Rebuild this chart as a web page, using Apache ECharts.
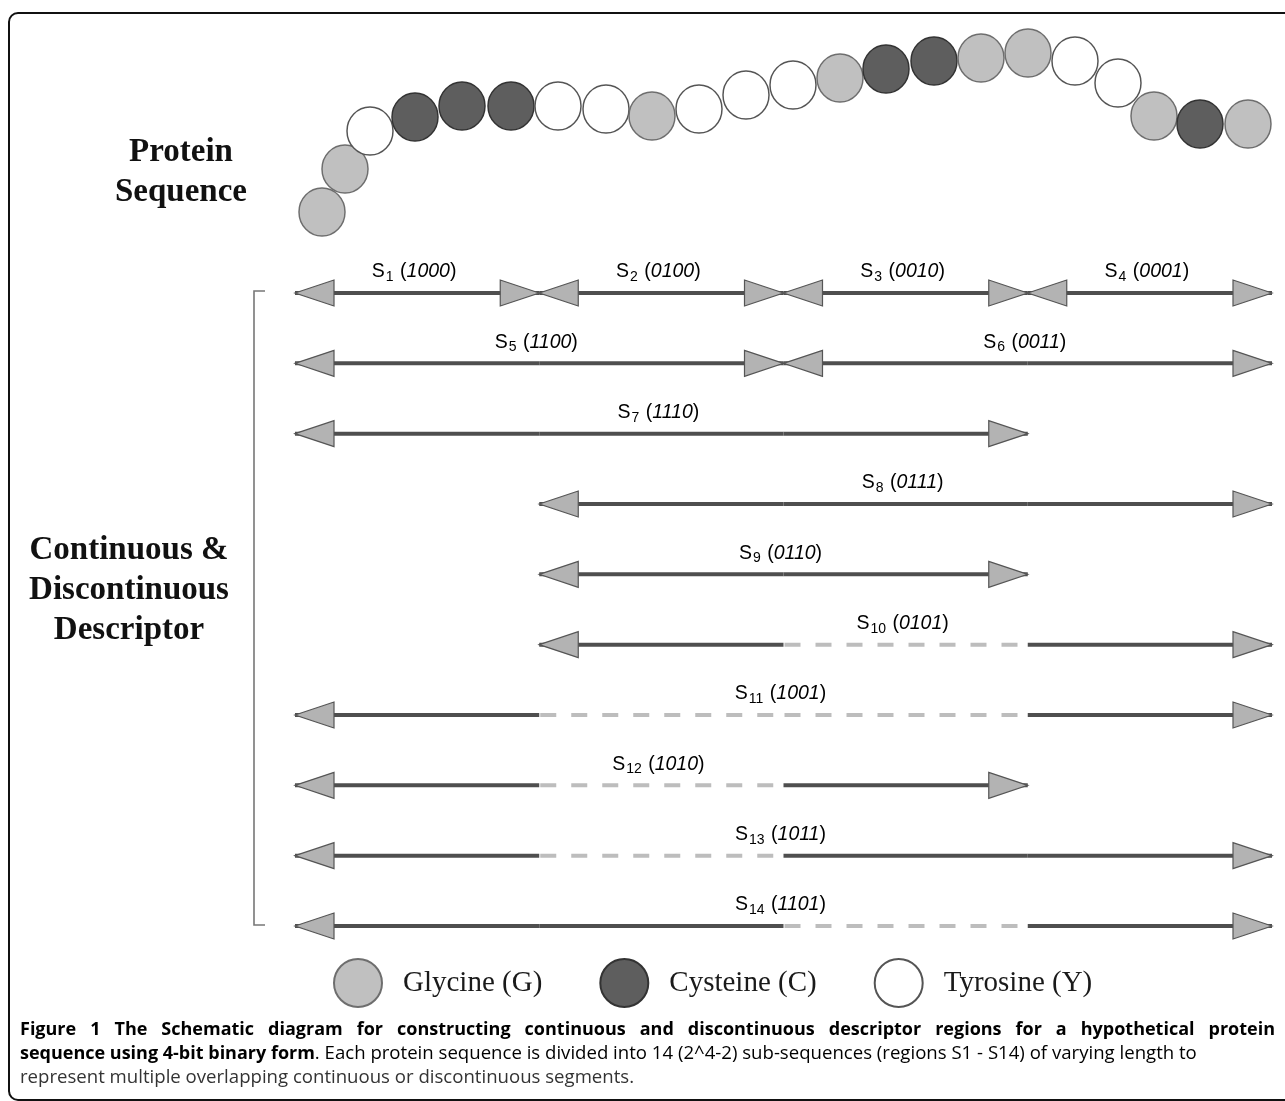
<!DOCTYPE html>
<html><head><meta charset="utf-8">
<script src="https://cdn.jsdelivr.net/npm/echarts@6/dist/echarts.min.js"></script>
<style>html,body{margin:0;padding:0;background:#fff}#c{width:1285px;height:1101px}</style>
</head><body><div id="c"></div>
<script>
// ---- data ----
const residueTypes = ['Glycine (G)', 'Cysteine (C)', 'Tyrosine (Y)'];
const residueCodes = ['G', 'C', 'Y'];
const chainSequence = ['G','G','Y','C','C','C','Y','Y','G','Y','Y','Y','G','C','C','G','G','Y','Y','G','C','G'];
const chainX = [322,345,370,415,462,511,558,606,652,699,746,793,840,886,934,981,1028,1075,1118,1154,1200,1248];
const chainY = [212,169,131,117,106,106,106,109,116,109,95,85,78,69,61,58,53,61,83,116,124,124];
const regionNames = ['1','2','3','4','5','6','7','8','9','10','11','12','13','14'];
const regionCodes = ['1000','0100','0010','0001','1100','0011','1110','0111','0110','0101','1001','1010','1011','1101'];
const regionRows = [0,0,0,0,1,1,2,3,4,5,6,7,8,9];
const quarterTicks = [0,1,2,3,4];
const captionLine1 = 'Figure 1 The Schematic diagram for constructing continuous and discontinuous descriptor regions for a hypothetical protein';
const captionLine2Bold = 'sequence using 4-bit binary form';
const captionLine2 = '. Each protein sequence is divided into 14 (2^4-2) sub-sequences (regions S1 - S14) of varying length to';
const captionLine3 = 'represent multiple overlapping continuous or discontinuous segments.';

const residueStyle = {
  G: { color: '#c0c0c0', borderColor: '#6e6e6e', borderWidth: 1.5, opacity: 1 },
  C: { color: '#5e5e5e', borderColor: '#333333', borderWidth: 1.5, opacity: 1 },
  Y: { color: '#ffffff', borderColor: '#555555', borderWidth: 1.5, opacity: 1 }
};

const chart = echarts.init(document.getElementById('c'), null, { renderer: 'canvas' });

const regionData = regionCodes.map((code, i) => {
  const bits = code.split('').map(Number);
  return [bits.indexOf(1), bits.lastIndexOf(1) + 1, regionRows[i], i];
});

function renderRegion(params, api) {
  const i = api.value(3);
  const code = regionCodes[i];
  const bits = code.split('').map(Number);
  const first = bits.indexOf(1), last = bits.lastIndexOf(1);
  const row = api.value(2);
  const children = [];
  for (let q = first; q <= last; q++) {
    const p0 = api.coord([q, row]);
    const p1 = api.coord([q + 1, row]);
    const solid = bits[q] === 1;
    children.push({
      type: 'line',
      shape: { x1: p0[0] + (solid ? 0 : 1), y1: p0[1], x2: p1[0] - (solid ? 0 : 3), y2: p1[1] },
      style: solid ? { stroke: '#4f4f4f', lineWidth: 4 } : { stroke: '#bdbdbd', lineWidth: 4, lineDash: [16, 15] }
    });
  }
  const L = api.coord([first, row]);
  const R = api.coord([last + 1, row]);
  const hl = 39, hh = 13;
  const headStyle = { fill: '#b3b3b3', stroke: '#555', lineWidth: 1.2 };
  children.push({ type: 'polygon', shape: { points: [[L[0], L[1]], [L[0] + hl, L[1] - hh], [L[0] + hl, L[1] + hh]] }, style: headStyle });
  children.push({ type: 'polygon', shape: { points: [[R[0], R[1]], [R[0] - hl, R[1] - hh], [R[0] - hl, R[1] + hh]] }, style: headStyle });
  children.push({
    type: 'text',
    x: (L[0] + R[0]) / 2 - 3, y: L[1] - 21,
    style: {
      text: '{s|S}{sub|' + regionNames[i] + '}{s| (}{it|' + code + '}{s|)}',
      align: 'center', verticalAlign: 'middle',
      rich: {
        s: { fontFamily: 'Liberation Sans', fontSize: 19.5, color: '#1a1a1a', lineHeight: 24, verticalAlign: 'middle' },
        sub: { fontFamily: 'Liberation Sans', fontSize: 14, color: '#1a1a1a', lineHeight: 14, verticalAlign: 'bottom', padding: [0, 1, 0, 1] },
        it: { fontFamily: 'Liberation Sans', fontSize: 19.5, fontStyle: 'italic', color: '#1a1a1a', lineHeight: 24, verticalAlign: 'middle' }
      }
    }
  });
  return { type: 'group', children };
}

const serifBold = { fontFamily: 'Liberation Serif', fontWeight: 'bold', fontSize: 33, fill: '#111', align: 'center', verticalAlign: 'middle', lineHeight: 40 };

const line1Rich = captionLine1.split(' ').map(w => '{b|' + w + '}').join('{sp| }');

const option = {
  backgroundColor: '#fff',
  animation: false,
  grid: [
    { left: 295, top: 293, width: 977, height: 633 },
    { left: 0, top: 0, width: 1285, height: 1101 }
  ],
  xAxis: [
    { type: 'value', gridIndex: 0, min: 0, max: 4, interval: 1, show: false },
    { type: 'value', gridIndex: 1, min: 0, max: 1285, show: false }
  ],
  yAxis: [
    { type: 'value', gridIndex: 0, min: 0, max: 9, interval: 1, inverse: true, show: false },
    { type: 'value', gridIndex: 1, min: 0, max: 1101, inverse: true, show: false }
  ],
  legend: {
    data: residueTypes.map(n => ({ name: n, icon: 'circle' })),
    left: 333, top: 958, padding: 0, itemWidth: 48, itemHeight: 48, itemGap: 57,
    textStyle: { fontFamily: 'Liberation Serif', fontSize: 29, color: '#1a1a1a', padding: [0, 0, 0, 16] },
    selectedMode: false
  },
  series: [
    {
      type: 'custom', name: 'regions', xAxisIndex: 0, yAxisIndex: 0,
      renderItem: renderRegion, data: regionData, clip: false, silent: true,
      encode: { x: [0, 1], y: 2 }
    },
    {
      type: 'scatter', name: 'chain', xAxisIndex: 1, yAxisIndex: 1, symbol: 'circle',
      symbolSize: [46, 48], silent: true,
      data: chainSequence.map((c, i) => ({ value: [chainX[i], chainY[i]], itemStyle: residueStyle[c] }))
    }
  ].concat(residueTypes.map((n, k) => ({
    type: 'scatter', name: n, xAxisIndex: 1, yAxisIndex: 1, data: [],
    itemStyle: residueStyle[residueCodes[k]]
  }))),
  graphic: [
    { type: 'rect', shape: { x: 9, y: 13, width: 1300, height: 1087, r: 9 }, style: { fill: 'none', stroke: '#111', lineWidth: 2 }, z: 0 },
    { type: 'polyline', shape: { points: [[265, 291], [254, 291], [254, 925], [265, 925]] }, style: { fill: 'none', stroke: '#777', lineWidth: 1.6 } },
    { type: 'text', x: 181, y: 172, style: Object.assign({ text: 'Protein\nSequence' }, serifBold) },
    { type: 'text', x: 129, y: 590, style: Object.assign({ text: 'Continuous &\nDiscontinuous\nDescriptor' }, serifBold) },
    { type: 'text', x: 20, y: 1030, style: {
      text: line1Rich, verticalAlign: 'middle',
      rich: {
        b: { fontFamily: 'Open Sans', fontWeight: 'bold', fontSize: 18, color: '#000' },
        sp: { fontFamily: 'Open Sans', fontSize: 18, width: 14 }
      } } },
    { type: 'text', x: 20, y: 1054, style: {
      text: '{b|' + captionLine2Bold + '}{n|' + captionLine2 + '}',
      verticalAlign: 'middle',
      rich: {
        b: { fontFamily: 'Open Sans', fontWeight: 'bold', fontSize: 18, color: '#000' },
        n: { fontFamily: 'Open Sans', fontSize: 18.6, color: '#333' }
      } } },
    { type: 'text', x: 20, y: 1078, style: { text: captionLine3, fontFamily: 'Open Sans', fontSize: 18.6, fill: '#333', verticalAlign: 'middle' } }
  ]
};
chart.setOption(option);
</script></body></html>
